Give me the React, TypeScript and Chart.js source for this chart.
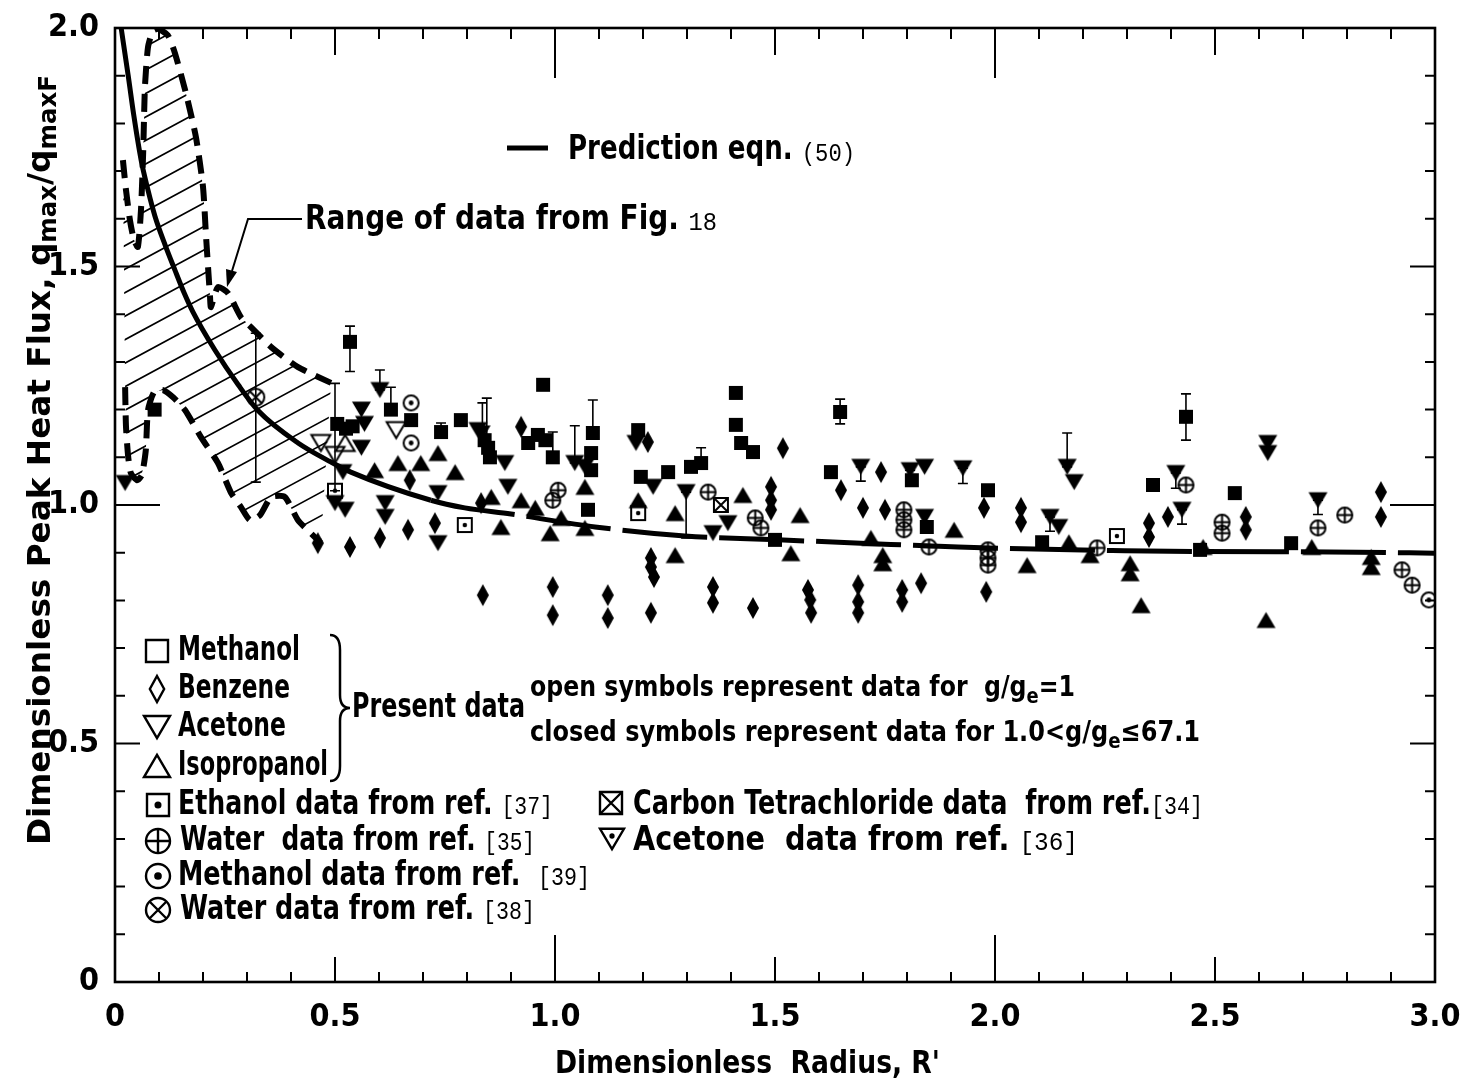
import React, { useEffect, useRef } from "react";
import { Chart, registerables } from "chart.js";

Chart.register(...registerables);

const SANS = '"Liberation Sans Narrow", "DejaVu Sans Condensed", "Liberation Sans", sans-serif';
const MONO = '"Liberation Mono", "DejaVu Sans Mono", monospace';

// ---------- tick labels ----------
const xTickLabels = ["0", "0.5", "1.0", "1.5", "2.0", "2.5", "3.0"];
const yTickLabels = ["0", "0.5", "1.0", "1.5", "2.0"];

// ---------- prediction eqn (50) ----------
const predictionR = [0.014, 0.03, 0.043, 0.059, 0.075, 0.091, 0.114, 0.136, 0.157, 0.177, 0.227, 0.28, 0.325, 0.416, 0.491, 0.536, 0.718, 0.795, 0.9, 1.091, 1.295, 1.507, 1.695, 1.916, 2.295, 2.825, 3.0];
const predictionQ = [2.0, 1.9, 1.815, 1.725, 1.66, 1.605, 1.545, 1.493, 1.445, 1.405, 1.325, 1.252, 1.198, 1.13, 1.09, 1.069, 1.01, 0.994, 0.981, 0.954, 0.935, 0.927, 0.92, 0.912, 0.904, 0.901, 0.899];

// ---------- range of data from Fig. 18 ----------
const rangeUpperR = [0.018, 0.025, 0.034, 0.043, 0.052, 0.059, 0.064, 0.068, 0.075, 0.086, 0.098, 0.12, 0.136, 0.161, 0.184, 0.2, 0.207, 0.216, 0.218, 0.234, 0.257, 0.286, 0.309, 0.355, 0.416, 0.491];
const rangeUpperQ = [1.723, 1.66, 1.597, 1.556, 1.541, 1.618, 1.738, 1.876, 1.96, 1.994, 1.998, 1.985, 1.948, 1.864, 1.771, 1.667, 1.562, 1.436, 1.415, 1.457, 1.444, 1.394, 1.373, 1.331, 1.289, 1.256];
const rangeLowerR = [0.023, 0.025, 0.03, 0.036, 0.05, 0.061, 0.07, 0.075, 0.089, 0.109, 0.132, 0.159, 0.195, 0.234, 0.264, 0.286, 0.307, 0.33, 0.355, 0.386, 0.416, 0.445, 0.468];
const rangeLowerQ = [1.247, 1.164, 1.101, 1.067, 1.052, 1.063, 1.115, 1.199, 1.237, 1.241, 1.226, 1.199, 1.143, 1.088, 1.025, 0.996, 0.968, 0.979, 1.017, 1.017, 0.968, 0.941, 0.92];

// ---------- present data (closed symbols) ----------
type P = [number, number];
const methanolClosed: P[] = [
  [0.09, 1.2], [0.534, 1.342], [0.505, 1.17], [0.525, 1.16], [0.54, 1.165], [0.627, 1.2], [0.673, 1.178],
  [0.741, 1.153], [0.786, 1.178], [0.84, 1.136], [0.848, 1.12], [0.852, 1.1], [0.973, 1.252], [0.939, 1.13],
  [0.961, 1.147], [0.978, 1.136], [0.995, 1.1], [1.086, 1.151], [1.082, 1.109], [1.082, 1.073], [1.075, 0.99],
  [1.189, 1.157], [1.195, 1.059], [1.257, 1.069], [1.309, 1.08], [1.332, 1.088], [1.411, 1.235], [1.411, 1.168],
  [1.423, 1.13], [1.45, 1.111], [1.5, 0.927], [1.627, 1.069], [1.648, 1.195], [1.811, 1.052], [1.845, 0.954],
  [1.984, 1.031], [2.107, 0.922], [2.359, 1.042], [2.434, 1.185], [2.466, 0.906], [2.545, 1.025], [2.673, 0.92],
];
const benzeneClosed: P[] = [
  [0.461, 0.92], [0.534, 0.912], [0.602, 0.931], [0.666, 0.948], [0.727, 0.962], [0.67, 1.052], [0.836, 0.811],
  [0.832, 1.004], [0.923, 1.164], [0.995, 0.828], [0.995, 0.769], [1.12, 0.811], [1.12, 0.763], [1.211, 1.132],
  [1.218, 0.889], [1.218, 0.87], [1.225, 0.849], [1.218, 0.774], [1.359, 0.828], [1.359, 0.795], [1.45, 0.784],
  [1.491, 1.038], [1.491, 1.01], [1.491, 0.99], [1.518, 1.119], [1.575, 0.822], [1.58, 0.801], [1.582, 0.774],
  [1.65, 1.031], [1.689, 0.832], [1.689, 0.797], [1.689, 0.774], [1.7, 0.994], [1.741, 1.069], [1.75, 0.99],
  [1.789, 0.822], [1.789, 0.797], [1.832, 0.836], [1.975, 0.994], [1.98, 0.818], [2.059, 0.994], [2.059, 0.964],
  [2.35, 0.962], [2.35, 0.933], [2.393, 0.975], [2.57, 0.975], [2.57, 0.948], [2.877, 1.027], [2.877, 0.975],
];
const acetoneClosed: P[] = [
  [0.023, 1.046], [0.602, 1.241], [0.56, 1.2], [0.567, 1.17], [0.56, 1.12], [0.518, 1.069], [0.5, 1.004],
  [0.523, 0.99], [0.614, 1.004], [0.614, 0.975], [0.734, 1.025], [0.734, 0.92], [0.825, 1.157], [0.832, 1.15],
  [0.886, 1.088], [0.893, 1.038], [1.045, 1.088], [1.068, 1.08], [1.184, 1.13], [1.223, 1.038], [1.298, 1.027],
  [1.359, 0.941], [1.393, 0.962], [1.695, 1.08], [1.807, 1.073], [1.84, 1.08], [1.84, 0.975], [1.927, 1.077],
  [2.125, 0.975], [2.145, 0.954], [2.164, 1.08], [2.18, 1.048], [2.411, 1.067], [2.425, 0.99], [2.62, 1.13],
  [2.62, 1.109], [2.734, 1.01],
];
const isopropanolClosed: P[] = [
  [0.59, 1.073], [0.643, 1.088], [0.695, 1.088], [0.734, 1.109], [0.773, 1.069], [0.855, 1.017], [0.877, 0.954],
  [0.923, 1.01], [0.955, 0.994], [1.014, 0.973], [0.989, 0.941], [1.068, 1.038], [1.068, 0.952], [1.189, 1.01],
  [1.273, 0.983], [1.273, 0.895], [1.427, 1.021], [1.557, 0.979], [1.536, 0.899], [1.718, 0.931], [1.745, 0.895],
  [1.745, 0.878], [1.907, 0.948], [2.073, 0.874], [2.168, 0.922], [2.216, 0.895], [2.307, 0.878], [2.307, 0.857],
  [2.332, 0.79], [2.473, 0.912], [2.616, 0.759], [2.72, 0.912], [2.855, 0.891], [2.855, 0.87],
];
// ---------- present data (open symbols) ----------
const acetoneOpen: P[] = [[0.468, 1.13], [0.5, 1.105], [0.639, 1.157]];
const isopropanolOpen: P[] = [[0.523, 1.13]];
// ---------- data from references ----------
const ethanolRef37: P[] = [[0.5, 1.03], [0.795, 0.958], [1.189, 0.983], [2.277, 0.935]];
const waterRef35: P[] = [
  [1.007, 1.031], [0.995, 1.01], [1.348, 1.027], [1.455, 0.973], [1.468, 0.952], [1.793, 0.99], [1.793, 0.969],
  [1.793, 0.948], [1.85, 0.912], [1.984, 0.906], [1.984, 0.889], [1.984, 0.874], [2.232, 0.91], [2.434, 1.042],
  [2.516, 0.964], [2.516, 0.941], [2.734, 0.952], [2.795, 0.979], [2.925, 0.864], [2.948, 0.832],
];
const methanolRef39: P[] = [[0.673, 1.214], [0.673, 1.13], [2.986, 0.801]];
const waterRef38: P[] = [[0.32, 1.226]];
const ccl4Ref34: P[] = [[1.377, 1.0]];

// ---------- error bars: [R, low, high] ----------
const errorBars: [number, number, number][] = [
  [0.534, 1.28, 1.375], [0.32, 1.048, 1.36], [0.5, 1.03, 1.255], [0.602, 1.241, 1.283], [0.627, 1.2, 1.247],
  [0.741, 1.153, 1.172], [0.835, 1.15, 1.214], [0.845, 1.13, 1.224], [0.995, 1.1, 1.153], [1.045, 1.088, 1.166],
  [1.086, 1.151, 1.22], [1.298, 0.931, 1.027], [1.332, 1.088, 1.12], [1.648, 1.17, 1.222], [2.164, 1.08, 1.151],
  [2.434, 1.136, 1.233], [1.807, 1.04, 1.073], [1.927, 1.045, 1.077], [2.125, 0.945, 0.975], [2.411, 1.035, 1.067],
  [2.425, 0.96, 0.99], [2.734, 0.98, 1.01], [1.695, 1.05, 1.08],
];

// ---------- symbols ----------
type Kind = "square" | "diamond" | "tri" | "triDown" | "circlePlus" | "circleDot" | "circleX" | "squareDot" | "squareX" | "triDownDot";

function drawSymbol(ctx: CanvasRenderingContext2D, kind: Kind, cx: number, cy: number, s: number, filled: boolean, lw: number) {
  ctx.save();
  ctx.lineWidth = lw;
  ctx.strokeStyle = "#000";
  ctx.fillStyle = "#000";
  ctx.lineJoin = "miter";
  const h = s / 2;
  ctx.beginPath();
  if (kind === "square" || kind === "squareDot" || kind === "squareX") {
    ctx.rect(cx - h, cy - h, s, s);
  } else if (kind === "diamond") {
    ctx.moveTo(cx, cy - h);
    ctx.lineTo(cx + h * 0.55, cy);
    ctx.lineTo(cx, cy + h);
    ctx.lineTo(cx - h * 0.55, cy);
    ctx.closePath();
  } else if (kind === "tri") {
    ctx.moveTo(cx, cy - h * 0.85);
    ctx.lineTo(cx + h, cy + h * 0.85);
    ctx.lineTo(cx - h, cy + h * 0.85);
    ctx.closePath();
  } else if (kind === "triDown" || kind === "triDownDot") {
    ctx.moveTo(cx - h, cy - h * 0.85);
    ctx.lineTo(cx + h, cy - h * 0.85);
    ctx.lineTo(cx, cy + h * 0.85);
    ctx.closePath();
  } else {
    ctx.arc(cx, cy, h, 0, Math.PI * 2);
  }
  if (filled) ctx.fill();
  else ctx.stroke();
  ctx.beginPath();
  if (kind === "circlePlus") {
    ctx.moveTo(cx - h, cy); ctx.lineTo(cx + h, cy);
    ctx.moveTo(cx, cy - h); ctx.lineTo(cx, cy + h);
    ctx.stroke();
  } else if (kind === "circleX") {
    const d = h * 0.707;
    ctx.moveTo(cx - d, cy - d); ctx.lineTo(cx + d, cy + d);
    ctx.moveTo(cx + d, cy - d); ctx.lineTo(cx - d, cy + d);
    ctx.stroke();
  } else if (kind === "squareX") {
    ctx.moveTo(cx - h, cy - h); ctx.lineTo(cx + h, cy + h);
    ctx.moveTo(cx + h, cy - h); ctx.lineTo(cx - h, cy + h);
    ctx.stroke();
  } else if (kind === "circleDot" || kind === "squareDot") {
    ctx.arc(cx, cy, Math.max(2, h * 0.32), 0, Math.PI * 2);
    ctx.fill();
  } else if (kind === "triDownDot") {
    ctx.arc(cx, cy - h * 0.25, Math.max(2, h * 0.22), 0, Math.PI * 2);
    ctx.fill();
  }
  ctx.restore();
}

function makeSymbol(kind: Kind, s: number, filled: boolean, lw: number): HTMLCanvasElement {
  const size = Math.ceil(s + lw * 2 + 4);
  const c = document.createElement("canvas");
  c.width = size;
  c.height = size;
  const ctx = c.getContext("2d")!;
  drawSymbol(ctx, kind, size / 2, size / 2, s, filled, lw);
  return c;
}

// ---------- text helper ----------
type Seg = { t: string; font: string; dy?: number };
function drawRich(ctx: CanvasRenderingContext2D, segs: Seg[], x: number, y: number, width?: number) {
  ctx.save();
  ctx.textBaseline = "middle";
  ctx.textAlign = "left";
  ctx.fillStyle = "#000";
  const widths = segs.map((s) => {
    ctx.font = s.font;
    return ctx.measureText(s.t).width;
  });
  const total = widths.reduce((a, b) => a + b, 0);
  const k = width ? width / total : 1;
  ctx.translate(x, y);
  ctx.scale(k, 1);
  let cx = 0;
  segs.forEach((s, i) => {
    ctx.font = s.font;
    ctx.fillText(s.t, cx, s.dy || 0);
    cx += widths[i];
  });
  ctx.restore();
}

const F = (size: number) => `bold ${size}px ${SANS}`;
const M = (size: number) => `${size}px ${MONO}`;

const toXY = (arr: P[]) => arr.map(([x, y]) => ({ x, y }));

// ---------- plugins ----------
const hatchPlugin = {
  id: "hatch",
  beforeDatasetsDraw(chart: any) {
    const up = chart.getDatasetMeta(1).data;
    const lo = chart.getDatasetMeta(2).data;
    const a = chart.chartArea;
    const ctx: CanvasRenderingContext2D = chart.ctx;
    ctx.save();
    ctx.beginPath();
    ctx.rect(a.left, a.top, a.right - a.left, a.bottom - a.top);
    ctx.clip();
    ctx.beginPath();
    up.forEach((p: any, i: number) => (i ? ctx.lineTo(p.x, p.y) : ctx.moveTo(p.x, p.y)));
    for (let i = lo.length - 1; i >= 0; i--) ctx.lineTo(lo[i].x, lo[i].y);
    ctx.closePath();
    ctx.clip();
    ctx.strokeStyle = "#000";
    ctx.lineWidth = 1.6;
    const slope = 0.54;
    const sp = 23.5;
    ctx.beginPath();
    for (let y0 = a.top - 200; y0 < a.bottom + 400; y0 += sp) {
      ctx.moveTo(a.left, y0);
      ctx.lineTo(a.left + 500, y0 - 500 * slope);
    }
    ctx.stroke();
    ctx.restore();
  },
};

const errorBarPlugin = {
  id: "errorBars",
  afterDatasetsDraw(chart: any) {
    const ctx: CanvasRenderingContext2D = chart.ctx;
    const xs = chart.scales.x;
    const ys = chart.scales.y;
    ctx.save();
    ctx.strokeStyle = "#000";
    ctx.lineWidth = 1.6;
    ctx.beginPath();
    errorBars.forEach(([r, lo, hi]) => {
      const px = xs.getPixelForValue(r);
      const p1 = ys.getPixelForValue(lo);
      const p2 = ys.getPixelForValue(hi);
      ctx.moveTo(px, p1); ctx.lineTo(px, p2);
      ctx.moveTo(px - 5, p2); ctx.lineTo(px + 5, p2);
      ctx.moveTo(px - 5, p1); ctx.lineTo(px + 5, p1);
    });
    ctx.stroke();
    ctx.restore();
  },
};

const decorPlugin = {
  id: "decor",
  afterDraw(chart: any) {
    const ctx: CanvasRenderingContext2D = chart.ctx;
    const a = chart.chartArea;
    const xs = chart.scales.x;
    const ys = chart.scales.y;
    ctx.save();
    ctx.strokeStyle = "#000";
    ctx.fillStyle = "#000";
    // frame
    ctx.lineWidth = 2.6;
    ctx.strokeRect(a.left, a.top, a.right - a.left, a.bottom - a.top);
    // ticks
    ctx.lineWidth = 2;
    ctx.beginPath();
    for (let i = 1; i < 30; i++) {
      const px = xs.getPixelForValue(i / 10);
      const lb = i % 10 === 0 ? 47 : i % 5 === 0 ? 25 : 10;
      const lt = i % 10 === 0 ? 50 : i % 5 === 0 ? 27 : 11;
      ctx.moveTo(px, a.bottom); ctx.lineTo(px, a.bottom - lb);
      ctx.moveTo(px, a.top); ctx.lineTo(px, a.top + lt);
    }
    for (let j = 1; j < 20; j++) {
      const py = ys.getPixelForValue(j / 10);
      const l = j % 10 === 0 ? 45 : j % 5 === 0 ? 25 : 10;
      ctx.moveTo(a.left, py); ctx.lineTo(a.left + l, py);
      ctx.moveTo(a.right, py); ctx.lineTo(a.right - l, py);
    }
    ctx.stroke();

    // axis titles
    drawRich(ctx, [{ t: "Dimensionless  Radius, R'", font: F(32) }], 555, 1065, 385);
    ctx.save();
    ctx.translate(42, 845);
    ctx.rotate(-Math.PI / 2);
    drawRich(
      ctx,
      [
        { t: "Dimensionless Peak Heat Flux, q", font: F(32) },
        { t: "max", font: F(24), dy: 8 },
        { t: "/q", font: F(32) },
        { t: "maxF", font: F(24), dy: 8 },
      ],
      0,
      0,
      770
    );
    ctx.restore();

    // prediction legend
    ctx.lineWidth = 5;
    ctx.beginPath();
    ctx.moveTo(507, 148); ctx.lineTo(548, 148);
    ctx.stroke();
    drawRich(ctx, [{ t: "Prediction eqn. ", font: F(34) }, { t: "(50)", font: M(26), dy: 4 }], 568, 150, 287);

    // range label + leader
    drawRich(ctx, [{ t: "Range of data from Fig. ", font: F(34) }, { t: "18", font: M(26), dy: 3 }], 305, 220, 412);
    ctx.lineWidth = 2;
    ctx.beginPath();
    ctx.moveTo(302, 219); ctx.lineTo(248, 219); ctx.lineTo(232, 271);
    ctx.stroke();
    ctx.beginPath();
    ctx.moveTo(227, 287); ctx.lineTo(237, 272); ctx.lineTo(226, 269);
    ctx.closePath();
    ctx.fill();

    // present-data legend
    drawSymbol(ctx, "square", 157, 651, 22, false, 2.4);
    drawSymbol(ctx, "diamond", 157, 689, 26, false, 2.4);
    drawSymbol(ctx, "triDown", 157, 727, 26, false, 2.4);
    drawSymbol(ctx, "tri", 157, 766, 26, false, 2.4);
    drawRich(ctx, [{ t: "Methanol", font: F(34) }], 178, 651, 122);
    drawRich(ctx, [{ t: "Benzene", font: F(34) }], 178, 689, 112);
    drawRich(ctx, [{ t: "Acetone", font: F(34) }], 178, 727, 108);
    drawRich(ctx, [{ t: "Isopropanol", font: F(34) }], 178, 766, 150);
    // brace
    ctx.lineWidth = 2.5;
    ctx.beginPath();
    ctx.moveTo(330, 635);
    ctx.quadraticCurveTo(340, 635, 340, 650);
    ctx.lineTo(340, 695);
    ctx.quadraticCurveTo(340, 708, 350, 708);
    ctx.quadraticCurveTo(340, 708, 340, 721);
    ctx.lineTo(340, 766);
    ctx.quadraticCurveTo(340, 781, 330, 781);
    ctx.stroke();
    drawRich(ctx, [{ t: "Present data", font: F(34) }], 352, 708, 173);
    drawRich(
      ctx,
      [
        { t: "open symbols represent data for  g/g", font: F(29) },
        { t: "e", font: F(22), dy: 9 },
        { t: "=1", font: F(29) },
      ],
      530,
      688,
      545
    );
    drawRich(
      ctx,
      [
        { t: "closed symbols represent data for 1.0<g/g", font: F(29) },
        { t: "e", font: F(22), dy: 9 },
        { t: "\u226467.1", font: F(29) },
      ],
      530,
      733,
      670
    );

    // reference legend
    drawSymbol(ctx, "squareDot", 158, 805, 22, false, 2.4);
    drawSymbol(ctx, "circlePlus", 158, 841, 24, false, 2.4);
    drawSymbol(ctx, "circleDot", 158, 876, 24, false, 2.4);
    drawSymbol(ctx, "circleX", 158, 910, 24, false, 2.4);
    drawSymbol(ctx, "squareX", 611, 803, 22, false, 2.4);
    drawSymbol(ctx, "triDownDot", 612, 839, 24, false, 2.4);
    drawRich(ctx, [{ t: "Ethanol data from ref. ", font: F(34) }, { t: "[37]", font: M(26), dy: 2 }], 178, 805, 375);
    drawRich(ctx, [{ t: "Water  data from ref. ", font: F(34) }, { t: "[35]", font: M(26), dy: 2 }], 180, 841, 355);
    drawRich(ctx, [{ t: "Methanol data from ref.  ", font: F(34) }, { t: "[39]", font: M(26), dy: 2 }], 178, 876, 412);
    drawRich(ctx, [{ t: "Water data from ref. ", font: F(34) }, { t: "[38]", font: M(26), dy: 2 }], 180, 910, 355);
    drawRich(ctx, [{ t: "Carbon Tetrachloride data  from ref.", font: F(34) }, { t: "[34]", font: M(26), dy: 2 }], 633, 805, 570);
    drawRich(ctx, [{ t: "Acetone  data from ref. ", font: F(34) }, { t: "[36]", font: M(26), dy: 2 }], 633, 841, 445);
    ctx.restore();
  },
};

export default function App() {
  const ref = useRef<HTMLCanvasElement>(null);
  useEffect(() => {
    const canvas = ref.current;
    if (!canvas) return;
    const scatterSet = (label: string, data: P[], kind: Kind, s: number, filled: boolean) => ({
      type: "scatter" as const,
      label,
      data: toXY(data),
      showLine: false,
      pointStyle: makeSymbol(kind, s, filled, 2),
      pointRadius: 4,
    });
    const chart = new Chart(canvas, {
      type: "scatter",
      data: {
        datasets: [
          {
            type: "line",
            label: "Prediction eqn. (50)",
            data: predictionR.map((r, i) => ({ x: r, y: predictionQ[i] })),
            borderColor: "#000",
            borderWidth: 5,
            pointRadius: 0,
            cubicInterpolationMode: "monotone",
            fill: false,
            segment: {
              borderDash: (c: any) => (c.p0.parsed.x >= 0.55 ? [85, 12] : undefined),
            },
          } as any,
          {
            type: "line",
            label: "Range of data from Fig. 18 (upper)",
            data: rangeUpperR.map((r, i) => ({ x: r, y: rangeUpperQ[i] })),
            borderColor: "#000",
            borderWidth: 6,
            borderDash: [18, 10],
            pointRadius: 0,
            tension: 0.2,
            fill: false,
          } as any,
          {
            type: "line",
            label: "Range of data from Fig. 18 (lower)",
            data: rangeLowerR.map((r, i) => ({ x: r, y: rangeLowerQ[i] })),
            borderColor: "#000",
            borderWidth: 6,
            borderDash: [18, 10],
            pointRadius: 0,
            tension: 0.2,
            fill: false,
          } as any,
          scatterSet("Methanol (closed)", methanolClosed, "square", 14, true),
          scatterSet("Benzene (closed)", benzeneClosed, "diamond", 22, true),
          scatterSet("Acetone (closed)", acetoneClosed, "triDown", 19, true),
          scatterSet("Isopropanol (closed)", isopropanolClosed, "tri", 19, true),
          scatterSet("Acetone (open)", acetoneOpen, "triDown", 19, false),
          scatterSet("Isopropanol (open)", isopropanolOpen, "tri", 19, false),
          scatterSet("Ethanol ref. [37]", ethanolRef37, "squareDot", 14, false),
          scatterSet("Water ref. [35]", waterRef35, "circlePlus", 15, false),
          scatterSet("Methanol ref. [39]", methanolRef39, "circleDot", 15, false),
          scatterSet("Water ref. [38]", waterRef38, "circleX", 17, false),
          scatterSet("Carbon Tetrachloride ref. [34]", ccl4Ref34, "squareX", 14, false),
        ],
      },
      options: {
        responsive: false,
        animation: false,
        layout: { padding: { top: 28, right: 26, left: 0, bottom: 0 } },
        plugins: { legend: { display: false }, tooltip: { enabled: false } },
        scales: {
          x: {
            type: "linear",
            min: 0,
            max: 3,
            grid: { display: false },
            border: { display: false },
            ticks: {
              stepSize: 0.5,
              autoSkip: false,
              maxRotation: 0,
              padding: 8,
              color: "#000",
              font: { family: SANS, size: 32, weight: "bold" },
              callback: (_v: any, i: number) => xTickLabels[i],
            },
            afterFit: (s: any) => {
              s.height = 106;
              s.paddingLeft = 0;
              s.paddingRight = 0;
            },
          },
          y: {
            type: "linear",
            min: 0,
            max: 2,
            grid: { display: false },
            border: { display: false },
            ticks: {
              stepSize: 0.5,
              autoSkip: false,
              padding: 8,
              color: "#000",
              font: { family: SANS, size: 32, weight: "bold" },
              callback: (_v: any, i: number) => yTickLabels[i],
            },
            afterFit: (s: any) => {
              s.width = 115;
              s.paddingTop = 0;
              s.paddingBottom = 0;
            },
          },
        },
      } as any,
      plugins: [hatchPlugin, errorBarPlugin, decorPlugin],
    });
    return () => chart.destroy();
  }, []);
  return (
    <div style={{ position: "absolute", left: 0, top: 0, width: 1461, height: 1088, background: "#fff" }}>
      <canvas ref={ref} width={1461} height={1088} style={{ display: "block", width: 1461, height: 1088 }} />
    </div>
  );
}
